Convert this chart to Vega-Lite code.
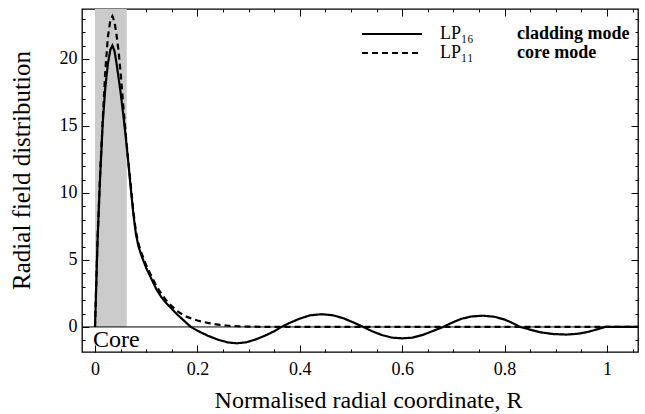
{
  "$schema": "https://vega.github.io/schema/vega-lite/v6.json",
  "width": 556,
  "height": 343,
  "autosize": "none",
  "padding": {"left": 82, "top": 9, "right": 7, "bottom": 62},
  "background": "white",
  "config": {
    "view": {"stroke": "black", "strokeWidth": 1.3},
    "font": "Liberation Serif",
    "axis": {"grid": false, "domain": false, "ticks": true, "labelFont": "Liberation Serif", "titleFont": "Liberation Serif", "labelColor": "black", "titleColor": "black", "tickColor": "black", "tickWidth": 1, "titleFontWeight": "normal", "tickSize": 7, "offset": -7}
  },
  "layer": [
    {
      "data": {"values": [{"r0": 0, "r1": 0.062, "v0": 0, "v1": 23.73}]},
      "mark": {"type": "rect", "fill": "#cbcbcb"},
      "encoding": {
        "x": {"field": "r0", "type": "quantitative", "scale": {"domain": [-0.0254, 1.0605], "nice": false, "zero": false},
          "axis": {"orient": "top", "labels": false, "title": null, "values": [0,0.2,0.4,0.6,0.8,1]}},
        "x2": {"field": "r1"},
        "y": {"field": "v0", "type": "quantitative", "scale": {"domain": [-1.87, 23.73], "nice": false, "zero": false},
          "axis": {"orient": "right", "labels": false, "title": null, "values": [0,5,10,15,20]}},
        "y2": {"field": "v1"}
      }
    },
    {
      "data": {"values": [{}]},
      "mark": {"type": "rule", "color": "black", "strokeWidth": 1},
      "encoding": {"y": {"datum": 0, "type": "quantitative", "axis": null}}
    },
    {
      "data": {"values": [
        {"R":0,"F":0,"mode":"LP₁₆","desc":"cladding mode"},
        {"R":0.005,"F":6.5,"mode":"LP₁₆","desc":"cladding mode"},
        {"R":0.01,"F":11.2,"mode":"LP₁₆","desc":"cladding mode"},
        {"R":0.015,"F":15.2,"mode":"LP₁₆","desc":"cladding mode"},
        {"R":0.02,"F":17.8,"mode":"LP₁₆","desc":"cladding mode"},
        {"R":0.025,"F":19.6,"mode":"LP₁₆","desc":"cladding mode"},
        {"R":0.03,"F":20.7,"mode":"LP₁₆","desc":"cladding mode"},
        {"R":0.034,"F":21.0,"mode":"LP₁₆","desc":"cladding mode"},
        {"R":0.038,"F":20.6,"mode":"LP₁₆","desc":"cladding mode"},
        {"R":0.042,"F":19.7,"mode":"LP₁₆","desc":"cladding mode"},
        {"R":0.046,"F":18.6,"mode":"LP₁₆","desc":"cladding mode"},
        {"R":0.05,"F":17.5,"mode":"LP₁₆","desc":"cladding mode"},
        {"R":0.055,"F":15.9,"mode":"LP₁₆","desc":"cladding mode"},
        {"R":0.06,"F":14.2,"mode":"LP₁₆","desc":"cladding mode"},
        {"R":0.065,"F":12.3,"mode":"LP₁₆","desc":"cladding mode"},
        {"R":0.07,"F":10.3,"mode":"LP₁₆","desc":"cladding mode"},
        {"R":0.075,"F":8.4,"mode":"LP₁₆","desc":"cladding mode"},
        {"R":0.08,"F":6.9,"mode":"LP₁₆","desc":"cladding mode"},
        {"R":0.085,"F":6.0,"mode":"LP₁₆","desc":"cladding mode"},
        {"R":0.09,"F":5.4,"mode":"LP₁₆","desc":"cladding mode"},
        {"R":0.095,"F":4.9,"mode":"LP₁₆","desc":"cladding mode"},
        {"R":0.1,"F":4.4,"mode":"LP₁₆","desc":"cladding mode"},
        {"R":0.11,"F":3.6,"mode":"LP₁₆","desc":"cladding mode"},
        {"R":0.12,"F":2.8,"mode":"LP₁₆","desc":"cladding mode"},
        {"R":0.13,"F":2.2,"mode":"LP₁₆","desc":"cladding mode"},
        {"R":0.14,"F":1.75,"mode":"LP₁₆","desc":"cladding mode"},
        {"R":0.15,"F":1.35,"mode":"LP₁₆","desc":"cladding mode"},
        {"R":0.16,"F":0.95,"mode":"LP₁₆","desc":"cladding mode"},
        {"R":0.17,"F":0.6,"mode":"LP₁₆","desc":"cladding mode"},
        {"R":0.18,"F":0.25,"mode":"LP₁₆","desc":"cladding mode"},
        {"R":0.185,"F":0.07,"mode":"LP₁₆","desc":"cladding mode"},
        {"R":0.19,"F":-0.06,"mode":"LP₁₆","desc":"cladding mode"},
        {"R":0.2,"F":-0.28,"mode":"LP₁₆","desc":"cladding mode"},
        {"R":0.22,"F":-0.65,"mode":"LP₁₆","desc":"cladding mode"},
        {"R":0.24,"F":-0.95,"mode":"LP₁₆","desc":"cladding mode"},
        {"R":0.26,"F":-1.16,"mode":"LP₁₆","desc":"cladding mode"},
        {"R":0.277,"F":-1.22,"mode":"LP₁₆","desc":"cladding mode"},
        {"R":0.295,"F":-1.15,"mode":"LP₁₆","desc":"cladding mode"},
        {"R":0.315,"F":-0.92,"mode":"LP₁₆","desc":"cladding mode"},
        {"R":0.335,"F":-0.6,"mode":"LP₁₆","desc":"cladding mode"},
        {"R":0.35,"F":-0.32,"mode":"LP₁₆","desc":"cladding mode"},
        {"R":0.364,"F":0,"mode":"LP₁₆","desc":"cladding mode"},
        {"R":0.38,"F":0.3,"mode":"LP₁₆","desc":"cladding mode"},
        {"R":0.4,"F":0.62,"mode":"LP₁₆","desc":"cladding mode"},
        {"R":0.42,"F":0.87,"mode":"LP₁₆","desc":"cladding mode"},
        {"R":0.443,"F":0.95,"mode":"LP₁₆","desc":"cladding mode"},
        {"R":0.465,"F":0.87,"mode":"LP₁₆","desc":"cladding mode"},
        {"R":0.485,"F":0.65,"mode":"LP₁₆","desc":"cladding mode"},
        {"R":0.505,"F":0.33,"mode":"LP₁₆","desc":"cladding mode"},
        {"R":0.524,"F":0,"mode":"LP₁₆","desc":"cladding mode"},
        {"R":0.54,"F":-0.3,"mode":"LP₁₆","desc":"cladding mode"},
        {"R":0.56,"F":-0.6,"mode":"LP₁₆","desc":"cladding mode"},
        {"R":0.58,"F":-0.8,"mode":"LP₁₆","desc":"cladding mode"},
        {"R":0.6,"F":-0.85,"mode":"LP₁₆","desc":"cladding mode"},
        {"R":0.62,"F":-0.8,"mode":"LP₁₆","desc":"cladding mode"},
        {"R":0.64,"F":-0.6,"mode":"LP₁₆","desc":"cladding mode"},
        {"R":0.66,"F":-0.3,"mode":"LP₁₆","desc":"cladding mode"},
        {"R":0.68,"F":0,"mode":"LP₁₆","desc":"cladding mode"},
        {"R":0.695,"F":0.28,"mode":"LP₁₆","desc":"cladding mode"},
        {"R":0.715,"F":0.6,"mode":"LP₁₆","desc":"cladding mode"},
        {"R":0.735,"F":0.78,"mode":"LP₁₆","desc":"cladding mode"},
        {"R":0.758,"F":0.84,"mode":"LP₁₆","desc":"cladding mode"},
        {"R":0.78,"F":0.76,"mode":"LP₁₆","desc":"cladding mode"},
        {"R":0.8,"F":0.55,"mode":"LP₁₆","desc":"cladding mode"},
        {"R":0.815,"F":0.3,"mode":"LP₁₆","desc":"cladding mode"},
        {"R":0.83,"F":0,"mode":"LP₁₆","desc":"cladding mode"},
        {"R":0.85,"F":-0.2,"mode":"LP₁₆","desc":"cladding mode"},
        {"R":0.87,"F":-0.4,"mode":"LP₁₆","desc":"cladding mode"},
        {"R":0.895,"F":-0.53,"mode":"LP₁₆","desc":"cladding mode"},
        {"R":0.921,"F":-0.57,"mode":"LP₁₆","desc":"cladding mode"},
        {"R":0.945,"F":-0.5,"mode":"LP₁₆","desc":"cladding mode"},
        {"R":0.965,"F":-0.35,"mode":"LP₁₆","desc":"cladding mode"},
        {"R":0.985,"F":-0.13,"mode":"LP₁₆","desc":"cladding mode"},
        {"R":0.996,"F":0,"mode":"LP₁₆","desc":"cladding mode"},
        {"R":1.06,"F":0,"mode":"LP₁₆","desc":"cladding mode"},
        {"R":0,"F":0,"mode":"LP₁₁","desc":"core mode"},
        {"R":0.005,"F":6.6,"mode":"LP₁₁","desc":"core mode"},
        {"R":0.01,"F":11.4,"mode":"LP₁₁","desc":"core mode"},
        {"R":0.015,"F":15.4,"mode":"LP₁₁","desc":"core mode"},
        {"R":0.02,"F":19.0,"mode":"LP₁₁","desc":"core mode"},
        {"R":0.025,"F":21.6,"mode":"LP₁₁","desc":"core mode"},
        {"R":0.03,"F":22.9,"mode":"LP₁₁","desc":"core mode"},
        {"R":0.034,"F":23.2,"mode":"LP₁₁","desc":"core mode"},
        {"R":0.038,"F":22.8,"mode":"LP₁₁","desc":"core mode"},
        {"R":0.042,"F":21.8,"mode":"LP₁₁","desc":"core mode"},
        {"R":0.046,"F":20.6,"mode":"LP₁₁","desc":"core mode"},
        {"R":0.05,"F":19.0,"mode":"LP₁₁","desc":"core mode"},
        {"R":0.055,"F":16.6,"mode":"LP₁₁","desc":"core mode"},
        {"R":0.06,"F":14.4,"mode":"LP₁₁","desc":"core mode"},
        {"R":0.065,"F":12.4,"mode":"LP₁₁","desc":"core mode"},
        {"R":0.07,"F":10.5,"mode":"LP₁₁","desc":"core mode"},
        {"R":0.075,"F":8.6,"mode":"LP₁₁","desc":"core mode"},
        {"R":0.08,"F":7.1,"mode":"LP₁₁","desc":"core mode"},
        {"R":0.085,"F":6.2,"mode":"LP₁₁","desc":"core mode"},
        {"R":0.09,"F":5.6,"mode":"LP₁₁","desc":"core mode"},
        {"R":0.095,"F":5.1,"mode":"LP₁₁","desc":"core mode"},
        {"R":0.1,"F":4.6,"mode":"LP₁₁","desc":"core mode"},
        {"R":0.11,"F":3.8,"mode":"LP₁₁","desc":"core mode"},
        {"R":0.12,"F":3.05,"mode":"LP₁₁","desc":"core mode"},
        {"R":0.13,"F":2.45,"mode":"LP₁₁","desc":"core mode"},
        {"R":0.14,"F":1.95,"mode":"LP₁₁","desc":"core mode"},
        {"R":0.15,"F":1.55,"mode":"LP₁₁","desc":"core mode"},
        {"R":0.16,"F":1.2,"mode":"LP₁₁","desc":"core mode"},
        {"R":0.17,"F":0.95,"mode":"LP₁₁","desc":"core mode"},
        {"R":0.18,"F":0.75,"mode":"LP₁₁","desc":"core mode"},
        {"R":0.19,"F":0.6,"mode":"LP₁₁","desc":"core mode"},
        {"R":0.2,"F":0.48,"mode":"LP₁₁","desc":"core mode"},
        {"R":0.22,"F":0.3,"mode":"LP₁₁","desc":"core mode"},
        {"R":0.244,"F":0.15,"mode":"LP₁₁","desc":"core mode"},
        {"R":0.26,"F":0.09,"mode":"LP₁₁","desc":"core mode"},
        {"R":0.28,"F":0.05,"mode":"LP₁₁","desc":"core mode"},
        {"R":0.3,"F":0.025,"mode":"LP₁₁","desc":"core mode"},
        {"R":0.33,"F":0.008,"mode":"LP₁₁","desc":"core mode"},
        {"R":0.36,"F":0,"mode":"LP₁₁","desc":"core mode"},
        {"R":1.06,"F":0,"mode":"LP₁₁","desc":"core mode"}
      ]},
      "mark": {"type": "line", "color": "black", "strokeWidth": 2.2, "clip": true},
      "encoding": {
        "x": {"field": "R", "type": "quantitative",
          "axis": {"orient": "bottom", "title": "Normalised radial coordinate, R", "titleFontSize": 24, "titleX": 286, "titleY": 62, "titleBaseline": "alphabetic", "titleAnchor": "middle",
            "labelFontSize": 18, "labelPadding": 8, "format": "~g", "values": [0,0.2,0.4,0.6,0.8,1]}},
        "y": {"field": "F", "type": "quantitative",
          "axis": {"orient": "left", "title": "Radial field distribution", "titleFontSize": 25, "titleX": -68, "titleY": 161, "titleAngle": 270, "titleBaseline": "middle", "titleAnchor": "middle",
            "labelFontSize": 18, "labelPadding": 5, "values": [0,5,10,15,20]}},
        "strokeDash": {"field": "mode", "type": "nominal",
          "scale": {"domain": ["LP₁₆", "LP₁₁"], "range": [[1, 0], [6, 4]]},
          "legend": {"orient": "none", "legendX": 301, "legendY": 16, "title": null, "symbolType": "M-6,0H6", "symbolSize": 100, "symbolStrokeWidth": 2, "symbolStrokeColor": "black", "symbolFillColor": "transparent", "labelFont": "Liberation Serif", "labelFontSize": 18, "labelOffset": 39, "labelColor": "black", "rowPadding": 1, "padding": 0}},
        "opacity": {"field": "desc", "type": "nominal",
          "scale": {"domain": ["cladding mode", "core mode"], "range": [1, 1]},
          "legend": {"orient": "none", "legendX": 417, "legendY": 16, "title": null, "symbolOpacity": 0, "symbolSize": 1, "symbolStrokeWidth": 0, "symbolStrokeColor": "transparent", "symbolFillColor": "transparent", "labelFont": "Liberation Serif", "labelFontSize": 18, "labelFontWeight": "bold", "labelOffset": 0, "labelColor": "black", "rowPadding": 1, "padding": 0}}
      }
    },
    {
      "data": {"values": [{}]},
      "mark": {"type": "text", "align": "left", "baseline": "alphabetic", "font": "Liberation Serif", "fontSize": 24, "color": "black"},
      "encoding": {
        "x": {"datum": -0.004, "type": "quantitative",
          "axis": {"orient": "bottom", "labels": false, "title": null, "tickSize": 3, "offset": -3, "values": [0.05,0.1,0.15,0.25,0.3,0.35,0.45,0.5,0.55,0.65,0.7,0.75,0.85,0.9,0.95,1.05]}},
        "y": {"datum": -1.5, "type": "quantitative",
          "axis": {"orient": "left", "labels": false, "title": null, "tickSize": 3, "offset": -3, "values": [-1,1,2,3,4,6,7,8,9,11,12,13,14,16,17,18,19,21,22,23]}},
        "text": {"value": "Core"}
      }
    },
    {
      "data": {"values": [{}]},
      "mark": {"type": "point", "opacity": 0},
      "encoding": {
        "x": {"datum": 0.5, "type": "quantitative",
          "axis": {"orient": "top", "labels": false, "title": null, "tickSize": 3, "offset": -3, "values": [0.05,0.1,0.15,0.25,0.3,0.35,0.45,0.5,0.55,0.65,0.7,0.75,0.85,0.9,0.95,1.05]}},
        "y": {"datum": 5, "type": "quantitative",
          "axis": {"orient": "right", "labels": false, "title": null, "tickSize": 3, "offset": -3, "values": [-1,1,2,3,4,6,7,8,9,11,12,13,14,16,17,18,19,21,22,23]}}
      }
    }
  ],
  "resolve": {"axis": {"x": "independent", "y": "independent"}}
}
